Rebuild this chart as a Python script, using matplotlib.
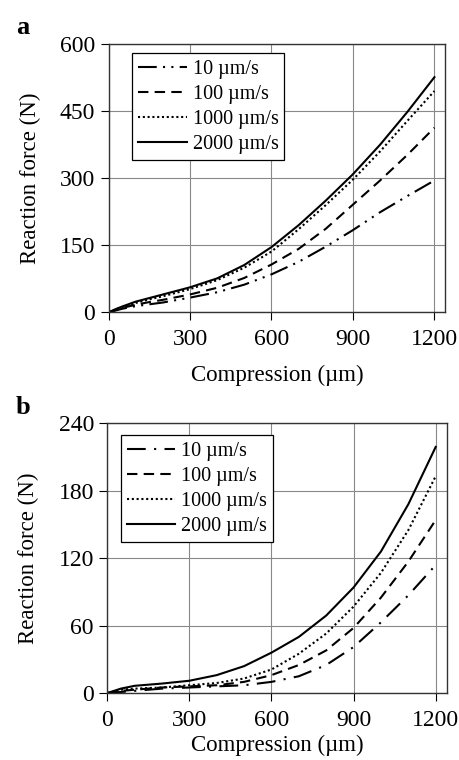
import matplotlib.pyplot as plt

plt.rcParams['font.family'] = ['Liberation Serif', 'DejaVu Serif']

labels = ['10 µm/s', '100 µm/s', '1000 µm/s', '2000 µm/s']

# panel a
xa = [0, 25, 50, 100, 150, 200, 300, 400, 500, 600, 700, 800, 900, 1000, 1100, 1200]
ya_10 = [0, 4, 8, 14, 18, 22, 33, 45, 62, 85, 113, 147, 184, 224, 260, 295]
ya_100 = [0, 5, 10, 17, 23, 28, 40, 55, 77, 107, 142, 187, 241, 295, 352, 413]
ya_1000 = [0, 6, 12, 21, 29, 36, 52, 72, 100, 136, 186, 240, 297, 360, 428, 495]
ya_2000 = [0, 7, 13, 24, 32, 40, 56, 76, 106, 146, 195, 250, 309, 375, 448, 526]

# panel b
xb = [0, 25, 50, 100, 150, 200, 300, 400, 500, 600, 700, 800, 900, 1000, 1100, 1200]
yb_10 = [0, 0.5, 1, 2, 3, 4, 5, 6, 7, 10, 15, 25, 41, 63, 87, 114]
yb_100 = [0, 1, 2, 3, 4, 5, 6, 7, 10, 16, 25, 38, 58, 85, 117, 154]
yb_1000 = [0, 1.5, 3, 4, 4.5, 5, 7, 9, 13, 21, 35, 53, 77, 107, 145, 193]
yb_2000 = [0, 2, 4, 6.5, 7.5, 8.5, 11, 16, 24, 36, 50, 69, 94, 126, 168, 219]

styles = [(0, (9, 3, 1, 3, 1, 3)), (0, (5, 3)), (0, (1, 1.3)), '-']
styles_b = [(0, (9, 4, 1, 4)), (0, (5, 3)), (0, (1, 1.3)), '-']

fig = plt.figure(figsize=(4.6, 7.6), dpi=100)
ax1 = fig.add_axes([0.236, 0.589, 0.732, 0.353])
ax2 = fig.add_axes([0.233, 0.088, 0.738, 0.355])

panels = [
    (ax1, xa, [ya_10, ya_100, ya_1000, ya_2000], styles, 600, 150, (0.07, 0.965), 11),
    (ax2, xb, [yb_10, yb_100, yb_1000, yb_2000], styles_b, 240, 60, (0.04, 0.955), 3),
]

for ax, x, ys, sty, ymax, ystep, anchor, xpad in panels:
    for y, ls, lab in zip(ys, sty, labels):
        ax.plot(x, y, color='black', linestyle=ls, linewidth=1.5, label=lab)
    ax.set_xlim(0, 1240)
    ax.set_ylim(0, ymax)
    ax.set_xticks(range(0, 1201, 300))
    ax.set_yticks(range(0, ymax + 1, ystep))
    ax.grid(True, color='#888888', linewidth=0.8)
    ax.tick_params(labelsize=17, length=6, width=0.8, direction='out')
    ax.tick_params(axis='x', pad=6)
    for s in ax.spines.values():
        s.set_color('#333333')
        s.set_linewidth(1.0)
    ax.set_xlabel('Compression (µm)', fontsize=16.5, labelpad=xpad)
    ax.set_ylabel('Reaction force (N)', fontsize=16.5, labelpad=14)
    leg = ax.legend(loc='upper left', bbox_to_anchor=anchor, fontsize=14.5,
                    handlelength=2.4, handletextpad=0.3, labelspacing=0.3,
                    borderpad=0.3, borderaxespad=0, fancybox=False,
                    framealpha=1, edgecolor='black')
    leg.get_frame().set_linewidth(0.9)

fig.text(0.035, 0.955, 'a', fontsize=19, fontweight='bold')
fig.text(0.035, 0.455, 'b', fontsize=19, fontweight='bold')

plt.savefig('out.png', dpi=100)
